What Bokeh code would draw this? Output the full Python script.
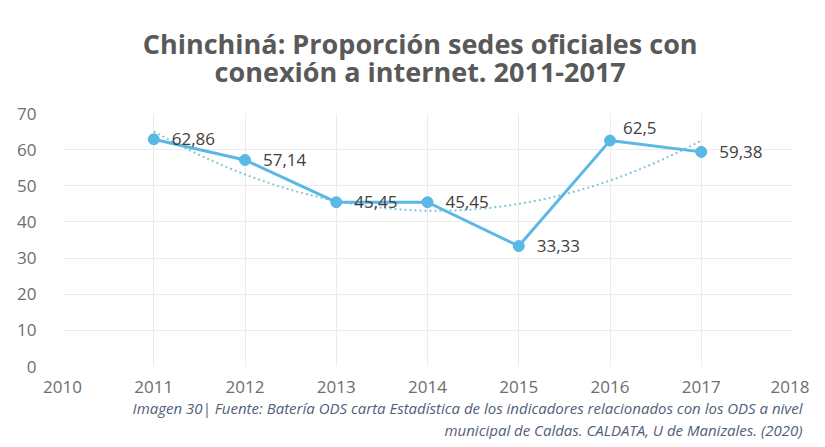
import numpy as np
from bokeh.plotting import figure
from bokeh.models import Title, ColumnDataSource, Range1d, FixedTicker, LinearAxis
from bokeh.core.properties import value
from bokeh.embed import file_html
from bokeh.resources import INLINE

# ---- data ----
years = [2011, 2012, 2013, 2014, 2015, 2016, 2017]
values = [62.86, 57.14, 45.45, 45.45, 33.33, 62.5, 59.38]
x_ticks = [2010, 2011, 2012, 2013, 2014, 2015, 2016, 2017, 2018]
y_ticks = [0, 10, 20, 30, 40, 50, 60, 70]
title_lines = ["Chinchiná: Proporción sedes oficiales con",
               "conexión a internet. 2011-2017"]
source_lines = ["Imagen 30| Fuente: Batería ODS carta Estadística de los indicadores relacionados con los ODS a nivel",
                "municipal de Caldas. CALDATA, U de Manizales. (2020)"]

# ---- styles ----
LINE_COLOR = "#5bb7e6"
TREND_COLOR = "#80c8d6"
TEXT_COLOR = "#595959"
LABEL_COLOR = "#404040"
GRID_COLOR = "#ebebeb"
NOTE_COLOR = "#51607a"
TITLE_X = 2013.92   # horizontal anchor of the centred title
label_dx = [18, 18, 18, 18, 18, 13, 18]
label_dy = [0, 0, 0, 0, 0, -13, 0]

labels = [str(v).replace(".", ",") for v in values]

p = figure(width=809, height=439, output_backend="svg", toolbar_location=None,
           x_range=Range1d(2010, 2018), y_range=Range1d(0, 70),
           min_border_left=62, min_border_right=17,
           min_border_top=113, min_border_bottom=72)
p.outline_line_color = None
p.background_fill_color = "white"
p.border_fill_color = "white"

for ax in (p.xaxis[0], p.yaxis[0]):
    ax.axis_line_color = None
    ax.major_tick_line_color = None
    ax.minor_tick_line_color = None
    ax.major_label_text_color = "#6e6e6e"
    ax.major_label_text_font = "Open Sans"
    ax.major_label_text_font_size = "17px"
p.xaxis[0].ticker = FixedTicker(ticks=x_ticks)
p.yaxis[0].ticker = FixedTicker(ticks=y_ticks)
p.xaxis[0].major_label_standoff = 8
p.yaxis[0].major_label_standoff = 20
p.xgrid[0].ticker = FixedTicker(ticks=x_ticks)
p.ygrid[0].ticker = FixedTicker(ticks=y_ticks)
p.xgrid.grid_line_color = GRID_COLOR
p.ygrid.grid_line_color = GRID_COLOR

# polynomial (order 2) trendline computed from the data
coef = np.polyfit(years, values, 2)
tx = np.linspace(years[0], years[-1], 120)
ty = np.polyval(coef, tx)
p.line(tx, ty, line_color=TREND_COLOR, line_width=2, line_dash="2 3")

src = ColumnDataSource(dict(x=years, y=values, label=labels, dx=label_dx, dy=label_dy))
p.line("x", "y", source=src, line_color=LINE_COLOR, line_width=3)
p.scatter("x", "y", source=src, size=11, fill_color=LINE_COLOR, line_color=LINE_COLOR)
p.text("x", "y", text="label", source=src, x_offset="dx", y_offset="dy",
       text_font=value("Open Sans"), text_font_size="17px", text_color=LABEL_COLOR,
       text_baseline="middle", text_align="left")

# title: two centred lines, drawn as the single label of an axis above the frame
title_axis = LinearAxis(ticker=FixedTicker(ticks=[TITLE_X]),
                        major_label_overrides={TITLE_X: "\n".join(title_lines)},
                        axis_line_color=None, major_tick_line_color=None,
                        minor_tick_line_color=None, major_label_standoff=18,
                        major_label_text_font="Open Sans", major_label_text_font_size="27px",
                        major_label_text_font_style="bold", major_label_text_color=TEXT_COLOR,
                        major_label_text_line_height=0.75)
p.add_layout(title_axis, "above")

# source note below the axis, right aligned
for line in source_lines:
    p.add_layout(Title(text=line, align="right", text_font="Open Sans",
                       text_font_size="15px", text_font_style="italic", text_color=NOTE_COLOR,
                       standoff=0, offset=-10), "below")

open("out.html", "w").write(file_html(p, INLINE))
